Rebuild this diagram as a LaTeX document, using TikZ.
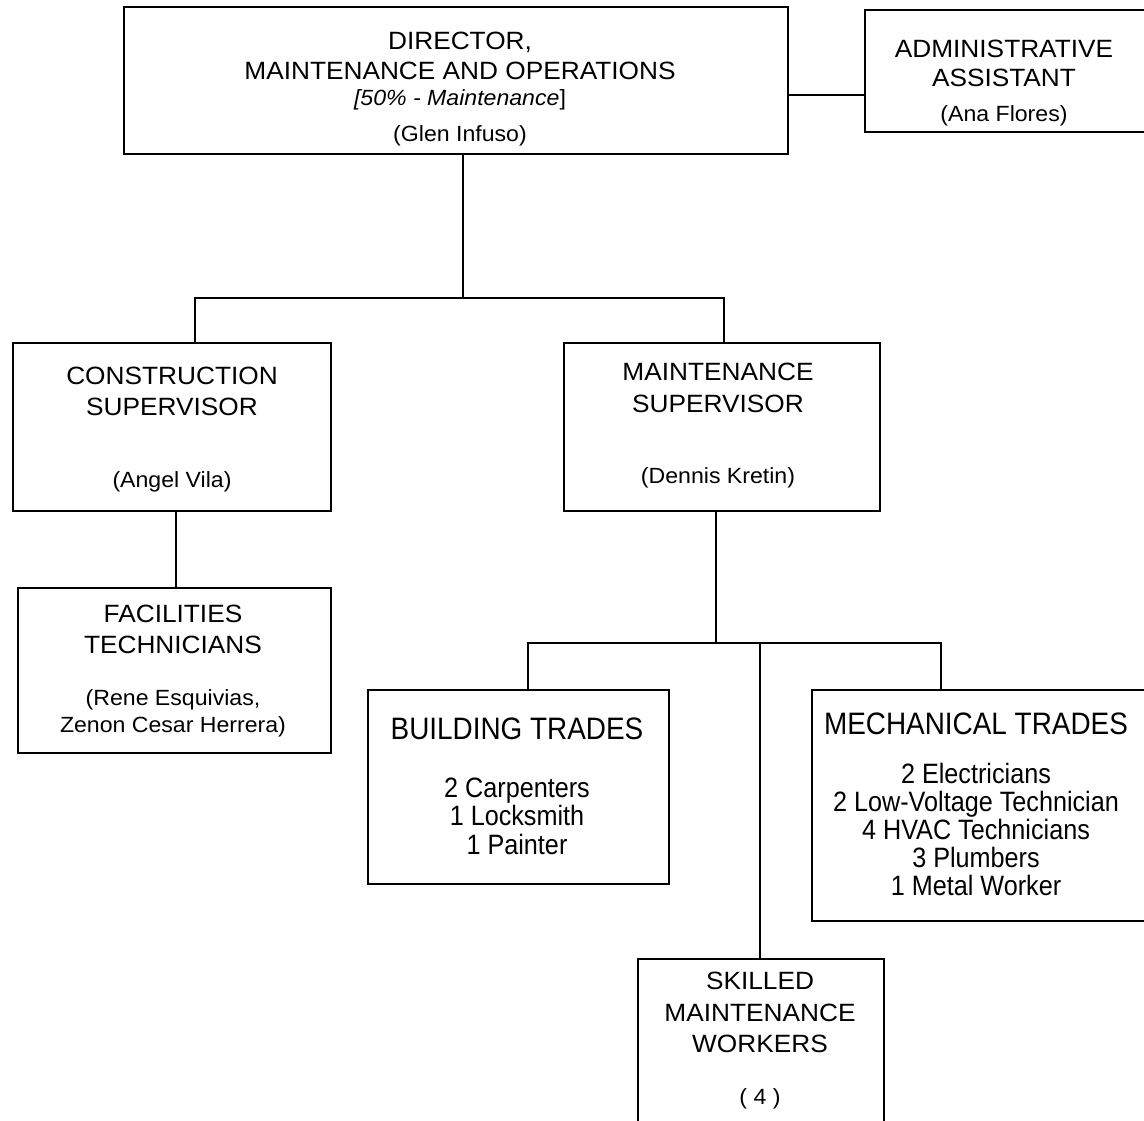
\documentclass[tikz,border=0pt]{standalone}
\usepackage{fontspec}
\setmainfont{Liberation Sans}[FakeStretch=1.05]
\newfontfamily\narrowf{Liberation Sans}[FakeStretch=0.9]
\begin{document}
\begin{tikzpicture}[x=1pt,y=-1pt,
  box/.style={draw,line width=2.2pt,rectangle,anchor=north west,inner sep=0pt},
  conn/.style={line width=2pt},
  ttl/.style={anchor=base,inner sep=0pt,font=\fontsize{25}{29}\selectfont},
  nm/.style={anchor=base,inner sep=0pt,font=\fontsize{22}{26}\selectfont},
  nttl/.style={anchor=base,inner sep=0pt,font=\narrowf\fontsize{31}{34}\selectfont},
  nit/.style={anchor=base,inner sep=0pt,font=\narrowf\fontsize{28}{31}\selectfont}]
\useasboundingbox (0,0) rectangle (1144,1120);
\fill[white] (0,0) rectangle (1144,1120);
% boxes
\node[box,minimum width=664pt,minimum height=147pt] (dir) at (123,6) {};
\node[box,minimum width=290pt,minimum height=122pt] (adm) at (864,9) {};
\node[box,minimum width=318pt,minimum height=168pt] (cons) at (12,342) {};
\node[box,minimum width=316pt,minimum height=168pt] (mnt) at (563,342) {};
\node[box,minimum width=313pt,minimum height=165pt] (fac) at (17,587) {};
\node[box,minimum width=301pt,minimum height=194pt] (bld) at (367,689) {};
\node[box,minimum width=343pt,minimum height=231pt] (mech) at (811,689) {};
\node[box,minimum width=246pt,minimum height=180pt] (skl) at (637,958) {};
% texts
\node[ttl] (t1) at (460,49) {DIRECTOR,};
\node[ttl] (t2) at (460,79) {MAINTENANCE AND OPERATIONS};
\node[nm] (t3) at (460,105) {\textit{[50\% - Maintenance}]};
\node[nm] (t4) at (460,141) {(Glen Infuso)};
\node[ttl] (a1) at (1004,57) {ADMINISTRATIVE};
\node[ttl] (a2) at (1004,86) {ASSISTANT};
\node[nm] (a3) at (1004,121) {(Ana Flores)};
\node[ttl] (c1) at (172,384) {CONSTRUCTION};
\node[ttl] (c2) at (172,415) {SUPERVISOR};
\node[nm] (c3) at (172,487) {(Angel Vila)};
\node[ttl] (m1) at (718,380) {MAINTENANCE};
\node[ttl] (m2) at (718,412) {SUPERVISOR};
\node[nm] (m3) at (718,483) {(Dennis Kretin)};
\node[ttl] (f1) at (173,622) {FACILITIES};
\node[ttl] (f2) at (173,653) {TECHNICIANS};
\node[nm] (f3) at (173,705) {(Rene Esquivias,};
\node[nm] (f4) at (173,732) {Zenon Cesar Herrera)};
\node[nttl] (b1) at (517,739) {BUILDING TRADES};
\node[nit] (b2) at (517,797) {2 Carpenters};
\node[nit] (b3) at (517,825) {1 Locksmith};
\node[nit] (b4) at (517,854) {1 Painter};
\node[nttl] (e1) at (976,734) {MECHANICAL TRADES};
\node[nit] (e2) at (976,783) {2 Electricians};
\node[nit] (e3) at (976,811) {2 Low-Voltage Technician};
\node[nit] (e4) at (976,839) {4 HVAC Technicians};
\node[nit] (e5) at (976,867) {3 Plumbers};
\node[nit] (e6) at (976,895) {1 Metal Worker};
\node[ttl] (s1) at (760,989) {SKILLED};
\node[ttl] (s2) at (760,1021) {MAINTENANCE};
\node[ttl] (s3) at (760,1052) {WORKERS};
\node[nm] (s4) at (760,1104) {( 4 )};
% connectors
\coordinate (ay) at (0,95);
\draw[conn] (dir.east |- ay) -- (adm.west |- ay);
\coordinate (j1) at (463,298);
\coordinate (j1l) at (195,298);
\coordinate (j1r) at (724,298);
\draw[conn] (dir.south -| j1) -- (j1);
\draw[conn] (cons.north -| j1l) -- (j1l) -- (j1r) -- (mnt.north -| j1r);
\coordinate (jc) at (176,0);
\draw[conn] (cons.south -| jc) -- (fac.north -| jc);
\coordinate (j2) at (716,643);
\coordinate (j2l) at (528,643);
\coordinate (j2r) at (941,643);
\coordinate (j2s) at (760,643);
\draw[conn] (mnt.south -| j2) -- (j2);
\draw[conn] (bld.north -| j2l) -- (j2l) -- (j2r) -- (mech.north -| j2r);
\draw[conn] (j2s) -- (skl.north -| j2s);
\end{tikzpicture}
\end{document}
